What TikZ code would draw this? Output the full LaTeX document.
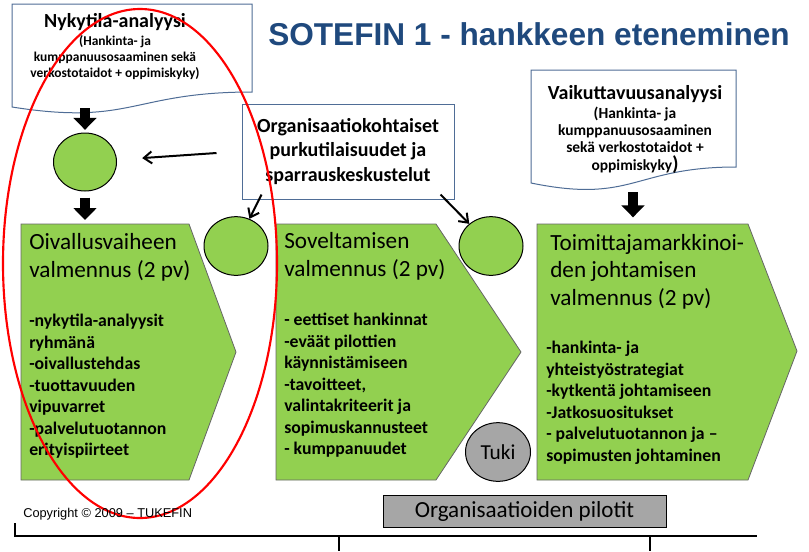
\documentclass[tikz,border=0pt]{standalone}
\usepackage{fontspec}
\setmainfont{Carlito}
\newfontfamily\arialfont{Liberation Sans}
\usetikzlibrary{shapes.geometric,arrows.meta,calc}

\definecolor{phasegreen}{RGB}{146,208,80}
\definecolor{titleblue}{RGB}{31,73,125}
\definecolor{docblue}{RGB}{79,109,150}
\definecolor{tukigray}{RGB}{166,166,166}

\tikzset{
  chevron/.style={fill=phasegreen, draw=black!60, line width=0.6pt},
  phasetitle/.style={anchor=base west, align=left, inner sep=0pt, font=\fontsize{17.4}{20.3}\selectfont},
  phaselist/.style={anchor=base west, align=left, inner sep=0pt, font=\fontsize{13.3}{16.1}\selectfont\bfseries},
  talk/.style={ellipse, fill=phasegreen, draw=black, line width=0.75pt, minimum width=48pt, minimum height=44pt, inner sep=0pt},
  docbox/.style={fill=white, draw=docblue, line width=0.75pt},
  blockarrow/.style={line width=7.5pt, -{Triangle[width=17pt,length=9pt]}},
  thinarrow/.style={line width=1.5pt, -{Straight Barb[length=6pt,width=9pt]}},
}

\begin{document}
\begin{tikzpicture}[x=0.75pt, y=-0.75pt]
  \useasboundingbox (0,0) rectangle (809,551);
  % title
  \node[anchor=base west, inner sep=0pt, text=titleblue, font=\arialfont\bfseries\fontsize{23.7}{28}\selectfont] (title) at (268,45) {SOTEFIN 1 - hankkeen eteneminen};
  % analysis documents (multi-line nodes sit on their last baseline)
  \draw[docbox] (12,4) -- (252,4) -- (252,92) .. controls (132,92) and (132,126) .. (12,107) -- cycle;
  \node[anchor=base, inner sep=0pt, font=\fontsize{15}{18}\selectfont\bfseries] (nykytila) at (115,27) {Nykytila-analyysi};
  \node[anchor=base, align=center, inner sep=0pt, font=\fontsize{10.1}{12}\selectfont\bfseries] (nykyinfo) at (115,77) {(Hankinta- ja\\kumppanuusosaaminen sekä\\verkostotaidot + oppimiskyky)};
  \draw[docbox] (531,70) -- (736,70) -- (736,167) .. controls (633.5,167) and (633.5,204) .. (531,183) -- cycle;
  \node[anchor=base, inner sep=0pt, font=\fontsize{15}{18}\selectfont\bfseries] (vaikutus) at (635,99) {Vaikuttavuusanalyysi};
  \node[anchor=base, align=center, inner sep=0pt, font=\fontsize{11.6}{13}\selectfont\bfseries] (vaikinfo) at (635,170) {(Hankinta- ja\\kumppanuusosaaminen\\sekä verkostotaidot +\\oppimiskyky{\fontsize{15}{13}\selectfont)}};
  % sparring box
  \node[draw=docblue, fill=white, line width=0.75pt, minimum width=159pt, minimum height=71.25pt, align=center, font=\fontsize{15}{18.4}\selectfont\bfseries] (org) at (348,151.5) {Organisaatiokohtaiset\\purkutilaisuudet ja\\sparrauskeskustelut};
  % phases
  \draw[chevron] (21,224) -- (189,224) -- (236,352) -- (189,480) -- (21,480) -- cycle;
  \draw[chevron] (276,224) -- (436,224) -- (521,352) -- (436,480) -- (276,480) -- cycle;
  \draw[chevron] (537,224) -- (748,224) -- (797,351) -- (748,480) -- (537,480) -- cycle;
  \node[phasetitle] (oivallus) at (29,277) {Oivallusvaiheen\\valmennus (2 pv)};
  \node[phaselist] (oivlist) at (29,455.5) {-nykytila-analyysit\\ryhmänä\\-oivallustehdas\\-tuottavuuden\\vipuvarret\\-palvelutuotannon\\erityispiirteet};
  \node[phasetitle] (sovellus) at (284,276) {Soveltamisen\\valmennus (2 pv)};
  \node[phaselist] (sovlist) at (284,454.5) {- eettiset hankinnat\\-eväät pilottien\\käynnistämiseen\\-tavoitteet,\\valintakriteerit ja\\sopimuskannusteet\\- kumppanuudet};
  \node[phasetitle] (toimittaja) at (550,305) {Toimittajamarkkinoi-\\den johtamisen\\valmennus (2 pv)};
  \node[phaselist] (toimlist) at (546,461) {-hankinta- ja\\yhteistyöstrategiat\\-kytkentä johtamiseen\\-Jatkosuositukset\\- palvelutuotannon ja --\\sopimusten johtaminen};
  % discussions and support
  \node[talk, minimum width=47.25pt, minimum height=43.5pt] (c1) at (85,162) {};
  \node[talk] (c2) at (236,246) {};
  \node[talk] (c3) at (491,246) {};
  \node[talk, fill=tukigray, minimum width=48.75pt, font=\fontsize{16}{18}\selectfont] (tuki) at (498,452) {Tuki};
  % arrows
  \coordinate (nykyBot) at (85,108);
  \coordinate (ch1Top) at (85,224);
  \coordinate (vaikBot) at (633,192);
  \coordinate (ch3Top) at (633,224);
  \draw[blockarrow, shorten >=2pt] (nykyBot) -- (c1.north);
  \draw[blockarrow, shorten <=4.5pt, shorten >=3pt] (c1.south) -- (ch1Top);
  \draw[blockarrow, shorten >=5pt] (vaikBot) -- (ch3Top);
  \draw[thinarrow, shorten >=19pt] ($(org.west)+(-25,1.5)$) -- (c1);
  \draw[thinarrow] ($(org.south west)+(20,-5)$) -- (c2);
  \draw[thinarrow] ($(org.south east)+(-14,-5)$) -- (c3);
  % first phase circled
  \draw[red, line width=1.6pt] (140,263.5) ellipse [x radius=137, y radius=254.5];
  % footer
  \node[anchor=base west, inner sep=0pt, font=\arialfont\fontsize{9.6}{11}\selectfont] (copy) at (23,517) {Copyright © 2009 – TUKEFIN};
  \node[draw=black, fill=tukigray, line width=0.75pt, minimum width=212.25pt, minimum height=24pt, font=\fontsize{17.3}{20}\selectfont] (pilotit) at (524.5,511) {Organisaatioiden pilotit};
  % time line
  \coordinate (tlStart) at (15,536);
  \coordinate (tlEnd) at (757,536);
  \draw[line width=2.2pt] (15,523) -- (tlStart) -- (tlEnd);
  \draw[line width=1.5pt] (339,536) -- (339,551);
  \draw[line width=1.5pt] (650,536) -- (650,551);
\end{tikzpicture}
\end{document}
